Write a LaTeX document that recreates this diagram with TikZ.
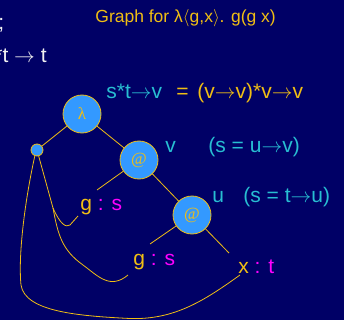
\documentclass[tikz,border=0pt]{standalone}
\usepackage{fontspec}
\setmainfont{Liberation Sans}
\newfontfamily\opfont{Liberation Serif}
\usepackage{xcolor}
\definecolor{navy}{RGB}{0,0,102}
\definecolor{gold}{RGB}{240,190,20}
\definecolor{nodeblue}{RGB}{51,153,255}
\definecolor{typecyan}{RGB}{40,190,210}
\definecolor{typemag}{RGB}{255,0,255}
\newcommand{\ar}{$\rightarrow$}

\begin{document}
\begin{tikzpicture}[x=1pt, y=-1pt, line width=0.8pt,
    op/.style={circle, draw=gold, fill=nodeblue, minimum size=38pt, inner sep=0pt, text=gold, font=\opfont\fontsize{17}{17}\selectfont},
    dot/.style={circle, draw=gold, fill=nodeblue, minimum size=12pt, inner sep=0pt},
    big/.style={font=\fontsize{21}{21}\selectfont, inner sep=0pt, anchor=base west},
    wire/.style={draw=gold}]
    \fill[navy] (0,0) rectangle (344,320);
    \useasboundingbox (0,0) rectangle (344,320);
    \node[big, text=gold, font=\fontsize{17.5}{17.5}\selectfont] (title) at (95,23) {Graph for λ$\langle$g,x$\rangle$. g(g x)};
    \node[big, text=white!88!gray] (semi) at (-2,30) {;};
    \node[big, text=white!88!gray] (prev) at (-6,63) {*t \ar{} t};
    \node[big, text=typecyan] (stv) at (106,99) {s*t\ar{}v};
    \node[big, text=gold] (eq) at (176,99) {=};
    \node[big, text=gold] (vv) at (197,99) {(v\ar{}v)*v\ar{}v};
    \node[op] (lam) at (82,114) {λ};
    \node[dot] (root) at (37,150) {};
    \node[op] (app1) at (139,160) {@};
    \node[op] (app2) at (192,215) {@};
    \node[big, text=typecyan] (vlab) at (165,153) {v};
    \node[big, text=typecyan] (seqv) at (208,153) {(s = u\ar{}v)};
    \node[big, text=typecyan] (ulab) at (212,202) {u};
    \node[big, text=typecyan] (sequ) at (243,202) {(s = t\ar{}u)};
    \node[big, text=gold] (g1) at (80,210) {g \textcolor{typemag}{: s}};
    \node[big, text=gold] (g2) at (133,265) {g \textcolor{typemag}{: s}};
    \node[big, text=gold] (x) at (238,273) {x \textcolor{typemag}{: t}};
    \coordinate (g1top) at (97,190);
    \coordinate (g2top) at (150,244);
    \coordinate (xtop) at (229,253);
    \coordinate (split) at (53,208);
    \coordinate (g1hook) at (78,216);
    \coordinate (g2hook) at (128,275);
    \coordinate (xhook) at (240,275);
    \draw[wire] (lam) -- (root);
    \draw[wire] (lam) -- (app1);
    \draw[wire] (app1) -- (g1top);
    \draw[wire] (app1) -- (app2);
    \draw[wire] (app2) -- (g2top);
    \draw[wire] (app2) -- (xtop);
    \draw[wire] (root) -- (split) .. controls (60,224) and (66,228) .. (70,225) -- (g1hook);
    \draw[wire] (split) .. controls (58,235) and (62,250) .. (83,265) .. controls (98,276) and (110,290) .. (g2hook);
    \draw[wire] (root.250) .. controls (25,200) and (18,255) .. (21,285) .. controls (25,312) and (80,316) .. (130,318.5) .. controls (175,320) and (205,300) .. (xhook);
\end{tikzpicture}
\end{document}
